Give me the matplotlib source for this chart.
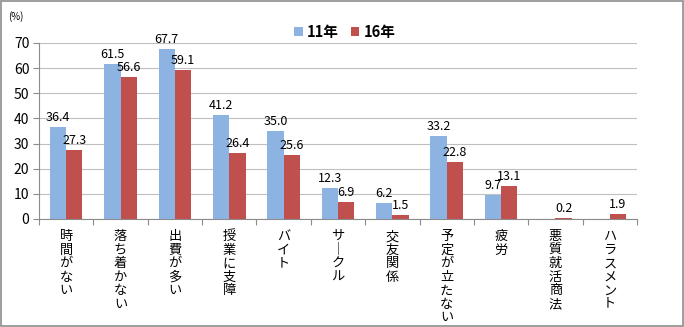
import matplotlib.pyplot as plt
import numpy as np
from matplotlib.patches import Rectangle

plt.rcParams["font.family"] = ["Noto Sans CJK JP", "DejaVu Sans"]

CATEGORIES = [
    "時間がない", "落ち着かない", "出費が多い", "授業に支障", "バイト",
    "サ｜クル", "交友関係", "予定が立たない", "疲労", "悪質就活商法", "ハラスメント",
]
SERIES_NAMES = ["11年", "16年"]
VALUES_11 = [36.4, 61.5, 67.7, 41.2, 35.0, 12.3, 6.2, 33.2, 9.7, np.nan, np.nan]
VALUES_16 = [27.3, 56.6, 59.1, 26.4, 25.6, 6.9, 1.5, 22.8, 13.1, 0.2, 1.9]
COLORS = ["#8DB3E2", "#C0504D"]

fig = plt.figure(figsize=(6.84, 3.27), dpi=100)
ax = fig.add_axes([39 / 684, 1 - 219 / 327, (637 - 39) / 684, (219 - 43) / 327])

x = np.arange(len(CATEGORIES))
width = 0.3
for i, (vals, name, color) in enumerate(zip([VALUES_11, VALUES_16], SERIES_NAMES, COLORS)):
    pos = x + (i - 0.5) * width
    ax.bar(pos, vals, width=width, color=color, label=name, zorder=3)
    for px, v in zip(pos, vals):
        if np.isnan(v):
            continue
        ax.text(px, v + 1.2, f"{v:.1f}", ha="center", va="bottom", fontsize=9, zorder=4)

ax.set_xlim(-0.5, len(CATEGORIES) - 0.5)
ax.set_ylim(0, 70)
ax.set_yticks(range(0, 71, 10))
ax.yaxis.grid(True, color="#BFBFBF", linewidth=0.8, zorder=0)
for s in ["top", "right"]:
    ax.spines[s].set_visible(False)
for s in ["left", "bottom"]:
    ax.spines[s].set_color("#8C8C8C")
ax.tick_params(axis="y", length=4, color="#8C8C8C", labelsize=10, pad=3)
ax.set_xticks(np.arange(-0.5, len(CATEGORIES), 1.0))
ax.set_xticklabels([])
ax.tick_params(axis="x", length=4, color="#8C8C8C")

for xi, label in zip(x, CATEGORIES):
    ax.text(xi, -4.5, "\n".join(label), ha="center", va="top", fontsize=9.5,
            linespacing=1.05, transform=ax.transData, clip_on=False)

fig.text(8 / 684, 1 - 17 / 327, "(%)", fontsize=7, va="center", ha="left")

ax.legend(loc="center left", bbox_to_anchor=(294 / 684, 1 - 32 / 327), bbox_transform=fig.transFigure,
          ncol=2, frameon=False, prop={"size": 10.5, "weight": "bold"}, handlelength=0.6,
          handleheight=0.6, handletextpad=0.3, columnspacing=0.8, borderaxespad=0, borderpad=0)

fig.patches.append(Rectangle((0.002, 0.003), 0.996, 0.994, transform=fig.transFigure,
                             fill=False, edgecolor="#8C8C8C", linewidth=1.2))

fig.savefig("out.png", dpi=100)
